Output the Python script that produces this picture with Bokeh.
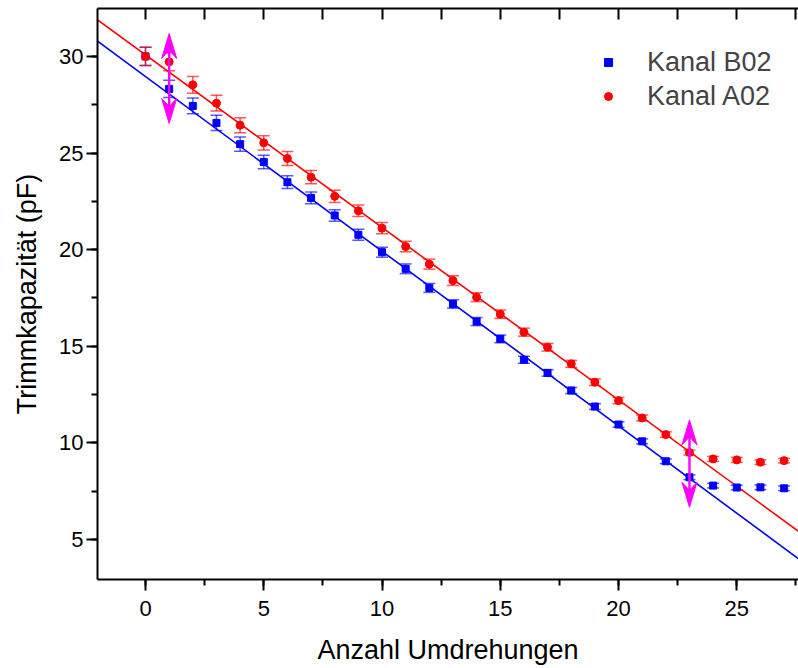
import numpy as np
from bokeh.plotting import figure
from bokeh.models import (ColumnDataSource, Whisker, TeeHead, LinearAxis, FixedTicker,
                          SingleIntervalTicker, Range1d, Legend, LegendItem,
                          CustomJSTickFormatter)
from bokeh.embed import file_html
from bokeh.resources import INLINE

# Measured trim capacitance per number of screw turns
turns = list(range(28))
kanal_b02 = [30.0, 28.32, 27.44, 26.56, 25.46, 24.54, 23.49, 22.68, 21.77, 20.77,
             19.87, 19.01, 18.02, 17.19, 16.28, 15.38, 14.30, 13.62, 12.71, 11.88,
             10.95, 10.08, 9.05, 8.22, 7.79, 7.69, 7.70, 7.65]
kanal_a02 = [30.0, 29.72, 28.53, 27.58, 26.44, 25.53, 24.72, 23.75, 22.76, 22.01,
             21.11, 20.16, 19.25, 18.40, 17.54, 16.66, 15.73, 14.95, 14.09, 13.14,
             12.19, 11.29, 10.43, 9.50, 9.17, 9.12, 9.00, 9.08]
err_b02 = [0.47, 0.45, 0.41, 0.39, 0.37, 0.35, 0.33, 0.31, 0.30, 0.28,
           0.26, 0.25, 0.23, 0.22, 0.21, 0.20, 0.18, 0.17, 0.16, 0.15,
           0.14, 0.13, 0.12, 0.12, 0.12, 0.12, 0.12, 0.12]
err_a02 = [0.47, 0.46, 0.43, 0.41, 0.39, 0.37, 0.36, 0.34, 0.32, 0.30,
           0.29, 0.27, 0.26, 0.25, 0.23, 0.22, 0.21, 0.20, 0.18, 0.17,
           0.16, 0.15, 0.14, 0.13, 0.13, 0.13, 0.12, 0.12]

# Linear fits (slope, intercept) of the linear region
fit_b02 = (-0.904, 28.96)
fit_a02 = (-0.893, 30.08)

# Marked range limits (x position, upper and lower arrow tip)
arrow_x = [1, 23]
arrow_top = [31.19, 11.19]
arrow_bottom = [26.53, 6.67]

x_lo, x_hi = -2.03, 27.61
y_lo, y_hi = 2.93, 32.48

W, H = 798, 668
left, right, top, bottom = 97, 0, 8, 89

p = figure(width=W, height=H, output_backend="svg", toolbar_location=None,
           x_range=Range1d(x_lo, x_hi), y_range=Range1d(y_lo, y_hi),
           min_border_left=left, min_border_right=right,
           min_border_top=top, min_border_bottom=bottom,
           x_axis_label="Anzahl Umdrehungen", y_axis_label="Trimmkapazität (pF)")
p.outline_line_color = None
p.xgrid.visible = False
p.ygrid.visible = False
p.background_fill_color = "white"
p.border_fill_color = "white"

FONT = "Liberation Sans"
for ax in (p.xaxis[0], p.yaxis[0]):
    ax.axis_line_width = 2
    ax.major_tick_line_width = 2
    ax.minor_tick_line_width = 2
    ax.major_tick_in = 0
    ax.minor_tick_in = 0
    ax.major_tick_out = 11
    ax.minor_tick_out = 6
    ax.major_label_text_font = FONT
    ax.major_label_text_font_size = "22px"
    ax.major_label_text_color = "black"
    ax.axis_label_text_font = FONT
    ax.axis_label_text_font_size = "27px"
    ax.axis_label_text_font_style = "normal"
    ax.axis_label_text_color = "black"
    ax.ticker = SingleIntervalTicker(interval=5, num_minor_ticks=2)
p.xaxis[0].major_label_standoff = 10
p.xaxis[0].axis_label_standoff = 16
p.yaxis[0].major_label_standoff = 3
p.yaxis[0].axis_label_standoff = 14

# top frame line with inward ticks, no numbers
top_axis = LinearAxis(ticker=FixedTicker(ticks=list(np.arange(-2.5, 30.1, 2.5)), minor_ticks=[]),
                      formatter=CustomJSTickFormatter(code="return ''"),
                      axis_line_width=2, major_tick_line_width=2,
                      major_tick_in=11, major_tick_out=0,
                      major_label_text_font_size="10px", major_label_standoff=0)
p.add_layout(top_axis, "above")

blue = "#0000ff"
red = "#ff0000"

src_b = ColumnDataSource(dict(x=turns, y=kanal_b02,
                              lo=[v - e for v, e in zip(kanal_b02, err_b02)],
                              hi=[v + e for v, e in zip(kanal_b02, err_b02)]))
src_a = ColumnDataSource(dict(x=turns, y=kanal_a02,
                              lo=[v - e for v, e in zip(kanal_a02, err_a02)],
                              hi=[v + e for v, e in zip(kanal_a02, err_a02)]))

# fit lines
fx = [x_lo - 0.5, x_hi + 0.5]
p.line(fx, [fit_b02[0] * x + fit_b02[1] for x in fx], line_color=blue, line_width=1.6)
p.line(fx, [fit_a02[0] * x + fit_a02[1] for x in fx], line_color=red, line_width=1.6)

# error bars
for src, col in ((src_b, blue), (src_a, red)):
    wk = Whisker(source=src, base="x", lower="lo", upper="hi",
                 line_color=col, line_alpha=0.65, line_width=1.5,
                 upper_head=TeeHead(size=12, line_color=col, line_alpha=0.65, line_width=1.5),
                 lower_head=TeeHead(size=12, line_color=col, line_alpha=0.65, line_width=1.5))
    p.add_layout(wk)

rb = p.scatter("x", "y", source=src_b, marker="square", size=7, fill_color=blue, line_color=blue)
ra = p.scatter("x", "y", source=src_a, marker="circle", size=8, fill_color=red, line_color=red)

# magenta double arrows
fw = W - left - right
fh = H - top - bottom
dx = (x_hi - x_lo) / fw
dy = (y_hi - y_lo) / fh
head_len, head_half, notch = 25, 7.5, 17
mag = "#ff00ff"
xs, ys = [], []
for ax_, t, b in zip(arrow_x, arrow_top, arrow_bottom):
    xs.append([ax_, ax_ + head_half * dx, ax_, ax_ - head_half * dx])
    ys.append([t, t - head_len * dy, t - notch * dy, t - head_len * dy])
    xs.append([ax_, ax_ + head_half * dx, ax_, ax_ - head_half * dx])
    ys.append([b, b + head_len * dy, b + notch * dy, b + head_len * dy])
p.segment(x0=arrow_x, y0=[t - 5 * dy for t in arrow_top], x1=arrow_x,
          y1=[b + 5 * dy for b in arrow_bottom], line_color=mag, line_width=2.4)
p.patches(xs, ys, fill_color=mag, line_color=mag, line_width=1)

legend = Legend(items=[LegendItem(label="Kanal B02", renderers=[rb]),
                       LegendItem(label="Kanal A02", renderers=[ra])],
                location=(501, 466), border_line_color=None, background_fill_alpha=0,
                label_text_font=FONT, label_text_font_size="27px",
                glyph_width=20, glyph_height=34, label_height=34, spacing=0,
                label_standoff=29, padding=0, margin=0)
p.add_layout(legend)

open("out.html", "w").write(file_html(p, INLINE))
